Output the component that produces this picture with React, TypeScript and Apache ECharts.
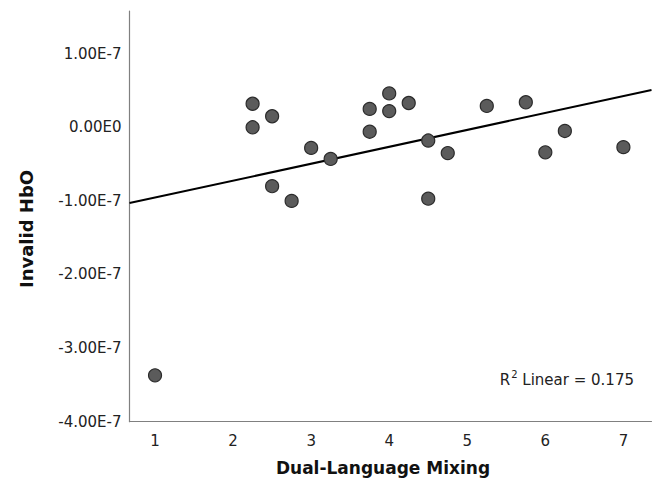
import React, { useEffect, useRef } from "react";
import * as echarts from "echarts";

const mixing = [1, 2.25, 2.25, 2.5, 2.5, 2.75, 3, 3.25, 3.75, 3.75, 4, 4, 4.25, 4.5, 4.5, 4.75, 5.25, 5.75, 6, 6.25, 7];
const hbo = [-3.37e-7, 0.32e-7, 0.0, 0.15e-7, -0.8e-7, -1.0e-7, -0.28e-7, -0.43e-7, 0.25e-7, -0.06e-7, 0.46e-7, 0.22e-7, 0.33e-7, -0.18e-7, -0.97e-7, -0.35e-7, 0.29e-7, 0.34e-7, -0.34e-7, -0.05e-7, -0.27e-7];
const xTicks = [1, 2, 3, 4, 5, 6, 7];
const yTicks = [-4e-7, -3e-7, -2e-7, -1e-7, 0, 1e-7];
const xRange = [0.673, 7.36];
const yRange = [-4e-7, 1.58e-7];
const rSquaredLabel = "0.175";

function fitLine() {
  const n = mixing.length;
  const mx = mixing.reduce((a, b) => a + b, 0) / n;
  const my = hbo.reduce((a, b) => a + b, 0) / n;
  let sxy = 0;
  let sxx = 0;
  for (let i = 0; i < n; i++) {
    sxy += (mixing[i] - mx) * (hbo[i] - my);
    sxx += (mixing[i] - mx) * (mixing[i] - mx);
  }
  const slope = sxy / sxx;
  const icpt = my - slope * mx;
  return [
    [xRange[0], icpt + slope * xRange[0]],
    [xRange[1], icpt + slope * xRange[1]],
  ];
}

function fmtY(v: number) {
  if (Math.abs(v) < 1e-12) return "0.00E0";
  return (v / 1e-7).toFixed(2) + "E-7";
}

const FONT = "DejaVu Sans";

export default function App() {
  const ref = useRef<HTMLDivElement>(null);
  useEffect(() => {
    if (!ref.current) return;
    const chart = echarts.init(ref.current, undefined, { renderer: "svg" });
    chart.setOption({
      animation: false,
      backgroundColor: "#ffffff",
      grid: { left: 129.5, right: 2.5, top: 11, bottom: 59.3, containLabel: false },
      xAxis: {
        type: "value",
        min: xRange[0],
        max: xRange[1],
        axisLine: { show: true, onZero: false, lineStyle: { color: "#808080", width: 1.2 } },
        axisTick: { show: false },
        splitLine: { show: false },
        axisLabel: {
          customValues: xTicks,
          margin: 12,
          fontFamily: FONT,
          fontSize: 15,
          color: "#222",
          formatter: (v: number) => String(Math.round(v)),
        },
      },
      yAxis: {
        type: "value",
        min: yRange[0],
        max: yRange[1],
        axisLine: { show: true, onZero: false, lineStyle: { color: "#808080", width: 1.2 } },
        axisTick: { show: false },
        splitLine: { show: false },
        axisLabel: {
          customValues: yTicks,
          margin: 8,
          fontFamily: FONT,
          fontSize: 15,
          color: "#222",
          formatter: fmtY,
        },
      },
      series: [
        {
          type: "line",
          data: fitLine(),
          symbol: "none",
          lineStyle: { color: "#000", width: 2 },
          z: 2,
        },
        {
          type: "scatter",
          data: mixing.map((x, i) => [x, hbo[i]]),
          symbol: "circle",
          symbolSize: 13,
          itemStyle: { color: "#5b5b5b", borderColor: "#2b2b2b", borderWidth: 1.2, opacity: 1 },
          z: 3,
        },
      ],
      graphic: [
        {
          type: "text",
          x: 26,
          y: 229,
          rotation: Math.PI / 2,
          style: {
            text: "Invalid HbO",
            fontFamily: FONT,
            fontWeight: "bold",
            fontSize: 18,
            fill: "#111",
            align: "center",
            verticalAlign: "middle",
          },
        },
        {
          type: "text",
          x: 383,
          y: 468,
          style: {
            text: "Dual-Language Mixing",
            fontFamily: FONT,
            fontWeight: "bold",
            fontSize: 17,
            fill: "#111",
            align: "center",
            verticalAlign: "middle",
          },
        },
        {
          type: "text",
          x: 634,
          y: 378,
          style: {
            text: "{n|R}{s|2}{n| Linear = " + rSquaredLabel + "}",
            align: "right",
            verticalAlign: "middle",
            rich: {
              n: { fontFamily: FONT, fontSize: 15, fill: "#222", verticalAlign: "bottom" },
              s: { fontFamily: FONT, fontSize: 10, fill: "#222", verticalAlign: "top", padding: [0, 0, 8, 1] },
            },
          },
        },
      ],
    });
    return () => chart.dispose();
  }, []);
  return <div ref={ref} style={{ position: "fixed", left: 0, top: 0, width: 654, height: 481 }} />;
}
